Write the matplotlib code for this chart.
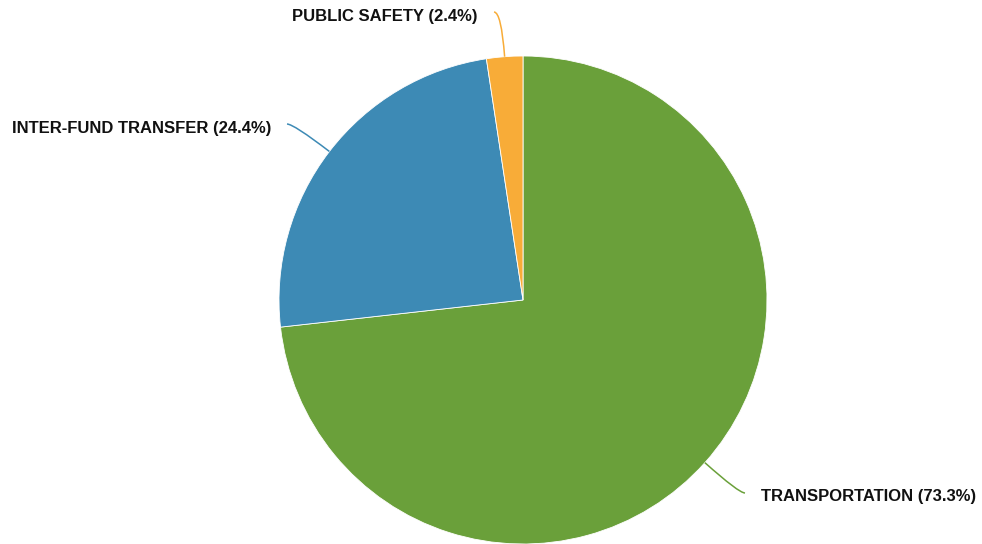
import numpy as np
import matplotlib
matplotlib.use("Agg")
import matplotlib.pyplot as plt
from matplotlib.path import Path
from matplotlib.patches import PathPatch

categories = ["TRANSPORTATION", "INTER-FUND TRANSFER", "PUBLIC SAFETY"]
shares = [73.3, 24.4, 2.4]
colors = ["#6AA03A", "#3D8AB5", "#F8AC38"]

W, H = 982, 544
fig = plt.figure(figsize=(W / 100, H / 100), dpi=100)
ax = fig.add_axes([0, 0, 1, 1])

cx, cy, R = 523, H - 300, 244
wedges, _ = ax.pie(shares, colors=colors, startangle=90, counterclock=False,
                   center=(cx, cy), radius=R, frame=True,
                   wedgeprops=dict(edgecolor="white", linewidth=0.6))
ax.set_xlim(0, W)
ax.set_ylim(0, H)
ax.set_aspect("equal")
ax.axis("off")

# leader end point and text alignment for each category
label_pos = {
    "TRANSPORTATION": (745, H - 493, "left"),
    "INTER-FUND TRANSFER": (287, H - 124, "right"),
    "PUBLIC SAFETY": (494, H - 12, "right"),
}
text_dy = {"TRANSPORTATION": -3, "INTER-FUND TRANSFER": -4, "PUBLIC SAFETY": -5}

for w, cat, val, col in zip(wedges, categories, shares, colors):
    mid = np.deg2rad((w.theta1 + w.theta2) / 2)
    ux, uy = np.cos(mid), np.sin(mid)
    ex, ey, side = label_pos[cat]
    p0 = (cx + R * ux, cy + R * uy)
    t = (ey - cy) / uy
    p1 = (cx + t * ux, ey)
    path = Path([p0, p1, (ex, ey)], [Path.MOVETO, Path.CURVE3, Path.CURVE3])
    ax.add_patch(PathPatch(path, facecolor="none", edgecolor=col, linewidth=1.1))
    gap = 16
    tx = ex + gap if side == "left" else ex - gap
    ax.text(tx, ey + text_dy[cat], f"{cat} ({val}%)", ha=side, va="center",
            fontsize=12, fontweight="bold", family="Liberation Sans", color="#111111")

fig.savefig("out.png", dpi=100)
